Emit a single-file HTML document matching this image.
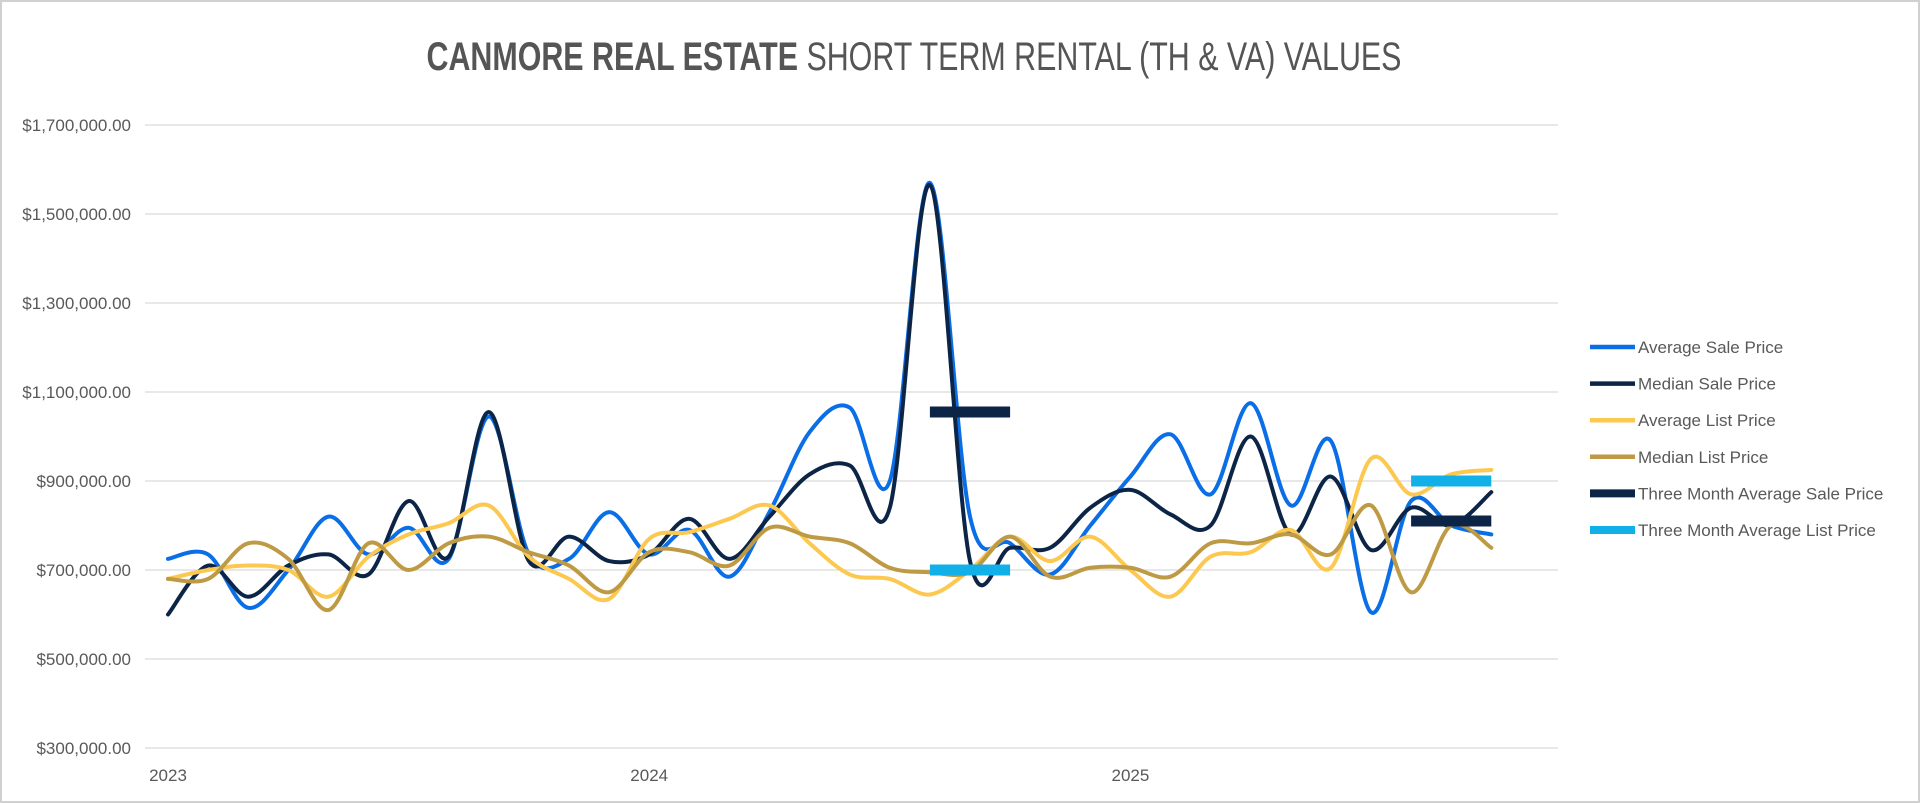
<!DOCTYPE html>
<html><head><meta charset="utf-8"><style>
html,body{margin:0;padding:0;background:#fff;}
svg{display:block;font-family:"Liberation Sans",sans-serif;}
</style></head><body>
<svg id="chart" width="1920" height="803">
<rect x="1" y="1" width="1918" height="801" fill="#fff" stroke="#d0d0d0" stroke-width="2"/>
<text x="914" y="70" text-anchor="middle" font-size="40" fill="#555" transform="translate(914,0) scale(0.76,1) translate(-914,0)"><tspan font-weight="bold">CANMORE REAL ESTATE</tspan> SHORT TERM RENTAL (TH &amp; VA) VALUES</text>
<g id="grid"></g><g id="series"></g><g id="legend"></g>
</svg>
<script>
const months = ["2023","","","","","","","","","","","","2024","","","","","","","","","","","","2025","","","","","","","","",""];
const yTicks = [300000,500000,700000,900000,1100000,1300000,1500000,1700000];
const avgSale = [725,735,615,700,820,735,795,725,1045,735,725,830,735,790,685,830,1010,1065,900,1570,820,760,690,800,910,1005,870,1075,845,990,605,855,800,780];
const medSale = [600,710,640,710,735,690,855,730,1055,720,775,720,735,815,725,820,915,935,840,1565,720,750,750,840,880,825,800,1000,780,910,745,840,800,875];
const avgList = [680,700,710,700,640,730,780,805,845,730,680,635,770,785,815,845,760,690,680,645,700,775,720,775,700,640,730,740,790,705,950,870,915,925];
const medList = [680,680,760,725,610,760,700,760,775,740,710,650,740,740,710,795,775,760,705,695,695,775,685,705,705,685,760,760,780,735,845,650,800,750];
const threeSale = [null,null,null,null,null,null,null,null,null,null,null,null,null,null,null,null,null,null,null,1055,1055,1055,null,null,null,null,null,null,null,null,null,810,810,810];
const threeList = [null,null,null,null,null,null,null,null,null,null,null,null,null,null,null,null,null,null,null,700,700,700,null,null,null,null,null,null,null,null,null,900,900,900];
const NS="http://www.w3.org/2000/svg";
const x0=168, dx=40.1, yTop=125, yBot=748, vMin=300000, vMax=1700000;
const X=i=>x0+i*dx;
const Y=v=>yBot-(v-vMin)/(vMax-vMin)*(yBot-yTop);
const grid=document.getElementById('grid'), ser=document.getElementById('series'), leg=document.getElementById('legend');
function mk(tag,attrs,parent){const e=document.createElementNS(NS,tag);for(const k in attrs)e.setAttribute(k,attrs[k]);parent.appendChild(e);return e;}
yTicks.forEach(v=>{
  const l=mk('line',{x1:145,x2:1558,y1:Y(v),y2:Y(v),stroke:'#d9d9d9','stroke-width':1.3},grid);
  
  
  const t=mk('text',{x:131,y:Y(v)+6,'text-anchor':'end','font-size':17,fill:'#595959'},grid);
  t.textContent='$'+v.toLocaleString('en-US')+'.00';
  
  
});
months.forEach((m,i)=>{if(!m)return;
  const t=mk('text',{x:X(i),y:781,'text-anchor':'middle','font-size':17,fill:'#595959'},grid);
  t.textContent=m;
  
  
});
function smooth(vals){
  const p=vals.map((v,i)=>[X(i),Y(v*1000)]);
  let d='M'+p[0][0]+','+p[0][1];
  for(let i=0;i<p.length-1;i++){
    const a=p[Math.max(0,i-1)],b=p[i],c=p[i+1],e=p[Math.min(p.length-1,i+2)];
    const c1=[b[0]+(c[0]-a[0])/6,b[1]+(c[1]-a[1])/6], c2=[c[0]-(e[0]-b[0])/6,c[1]-(e[1]-b[1])/6];
    d+=` C${c1[0]},${c1[1]} ${c2[0]},${c2[1]} ${c[0]},${c[1]}`;
  }
  return d;
}
function segs(vals){
  let d='';
  vals.forEach((v,i)=>{if(v==null)return; const pt=X(i)+','+Y(v*1000);
    if(i===0||vals[i-1]==null)d+='M'+pt;else d+='L'+pt;});
  return d;
}
const defs=[
 {name:'Average Sale Price',data:avgSale,color:'#0a6ee6',w:4,sm:true,id:'avg-sale-line'},
 {name:'Median Sale Price',data:medSale,color:'#0c2547',w:4,sm:true,id:'median-sale-line'},
 {name:'Average List Price',data:avgList,color:'#fcc850',w:4,sm:true,id:'avg-list-line'},
 {name:'Median List Price',data:medList,color:'#bf9a45',w:4,sm:true,id:'median-list-line'},
 {name:'Three Month Average Sale Price',data:threeSale,color:'#0c2547',w:11,sm:false,id:'three-month-sale-line'},
 {name:'Three Month Average List Price',data:threeList,color:'#12b0e8',w:11,sm:false,id:'three-month-list-line'}
];
defs.forEach((s,k)=>{
  const p=mk('path',{d:s.sm?smooth(s.data):segs(s.data),fill:'none',stroke:s.color,'stroke-width':s.w,'stroke-linejoin':'round','stroke-linecap':s.sm?'round':'butt'},ser);
  
  
  const ly=347+k*36.6;
  const g=mk('g',{},leg);
  
  
  mk('line',{x1:1590,x2:1635,y1:ly,y2:ly,stroke:s.color,'stroke-width':s.sm?4.5:8},g);
  const t=mk('text',{x:1638,y:ly+6,'font-size':17,fill:'#595959'},g);
  t.textContent=s.name;
});
</script>
</body></html>
